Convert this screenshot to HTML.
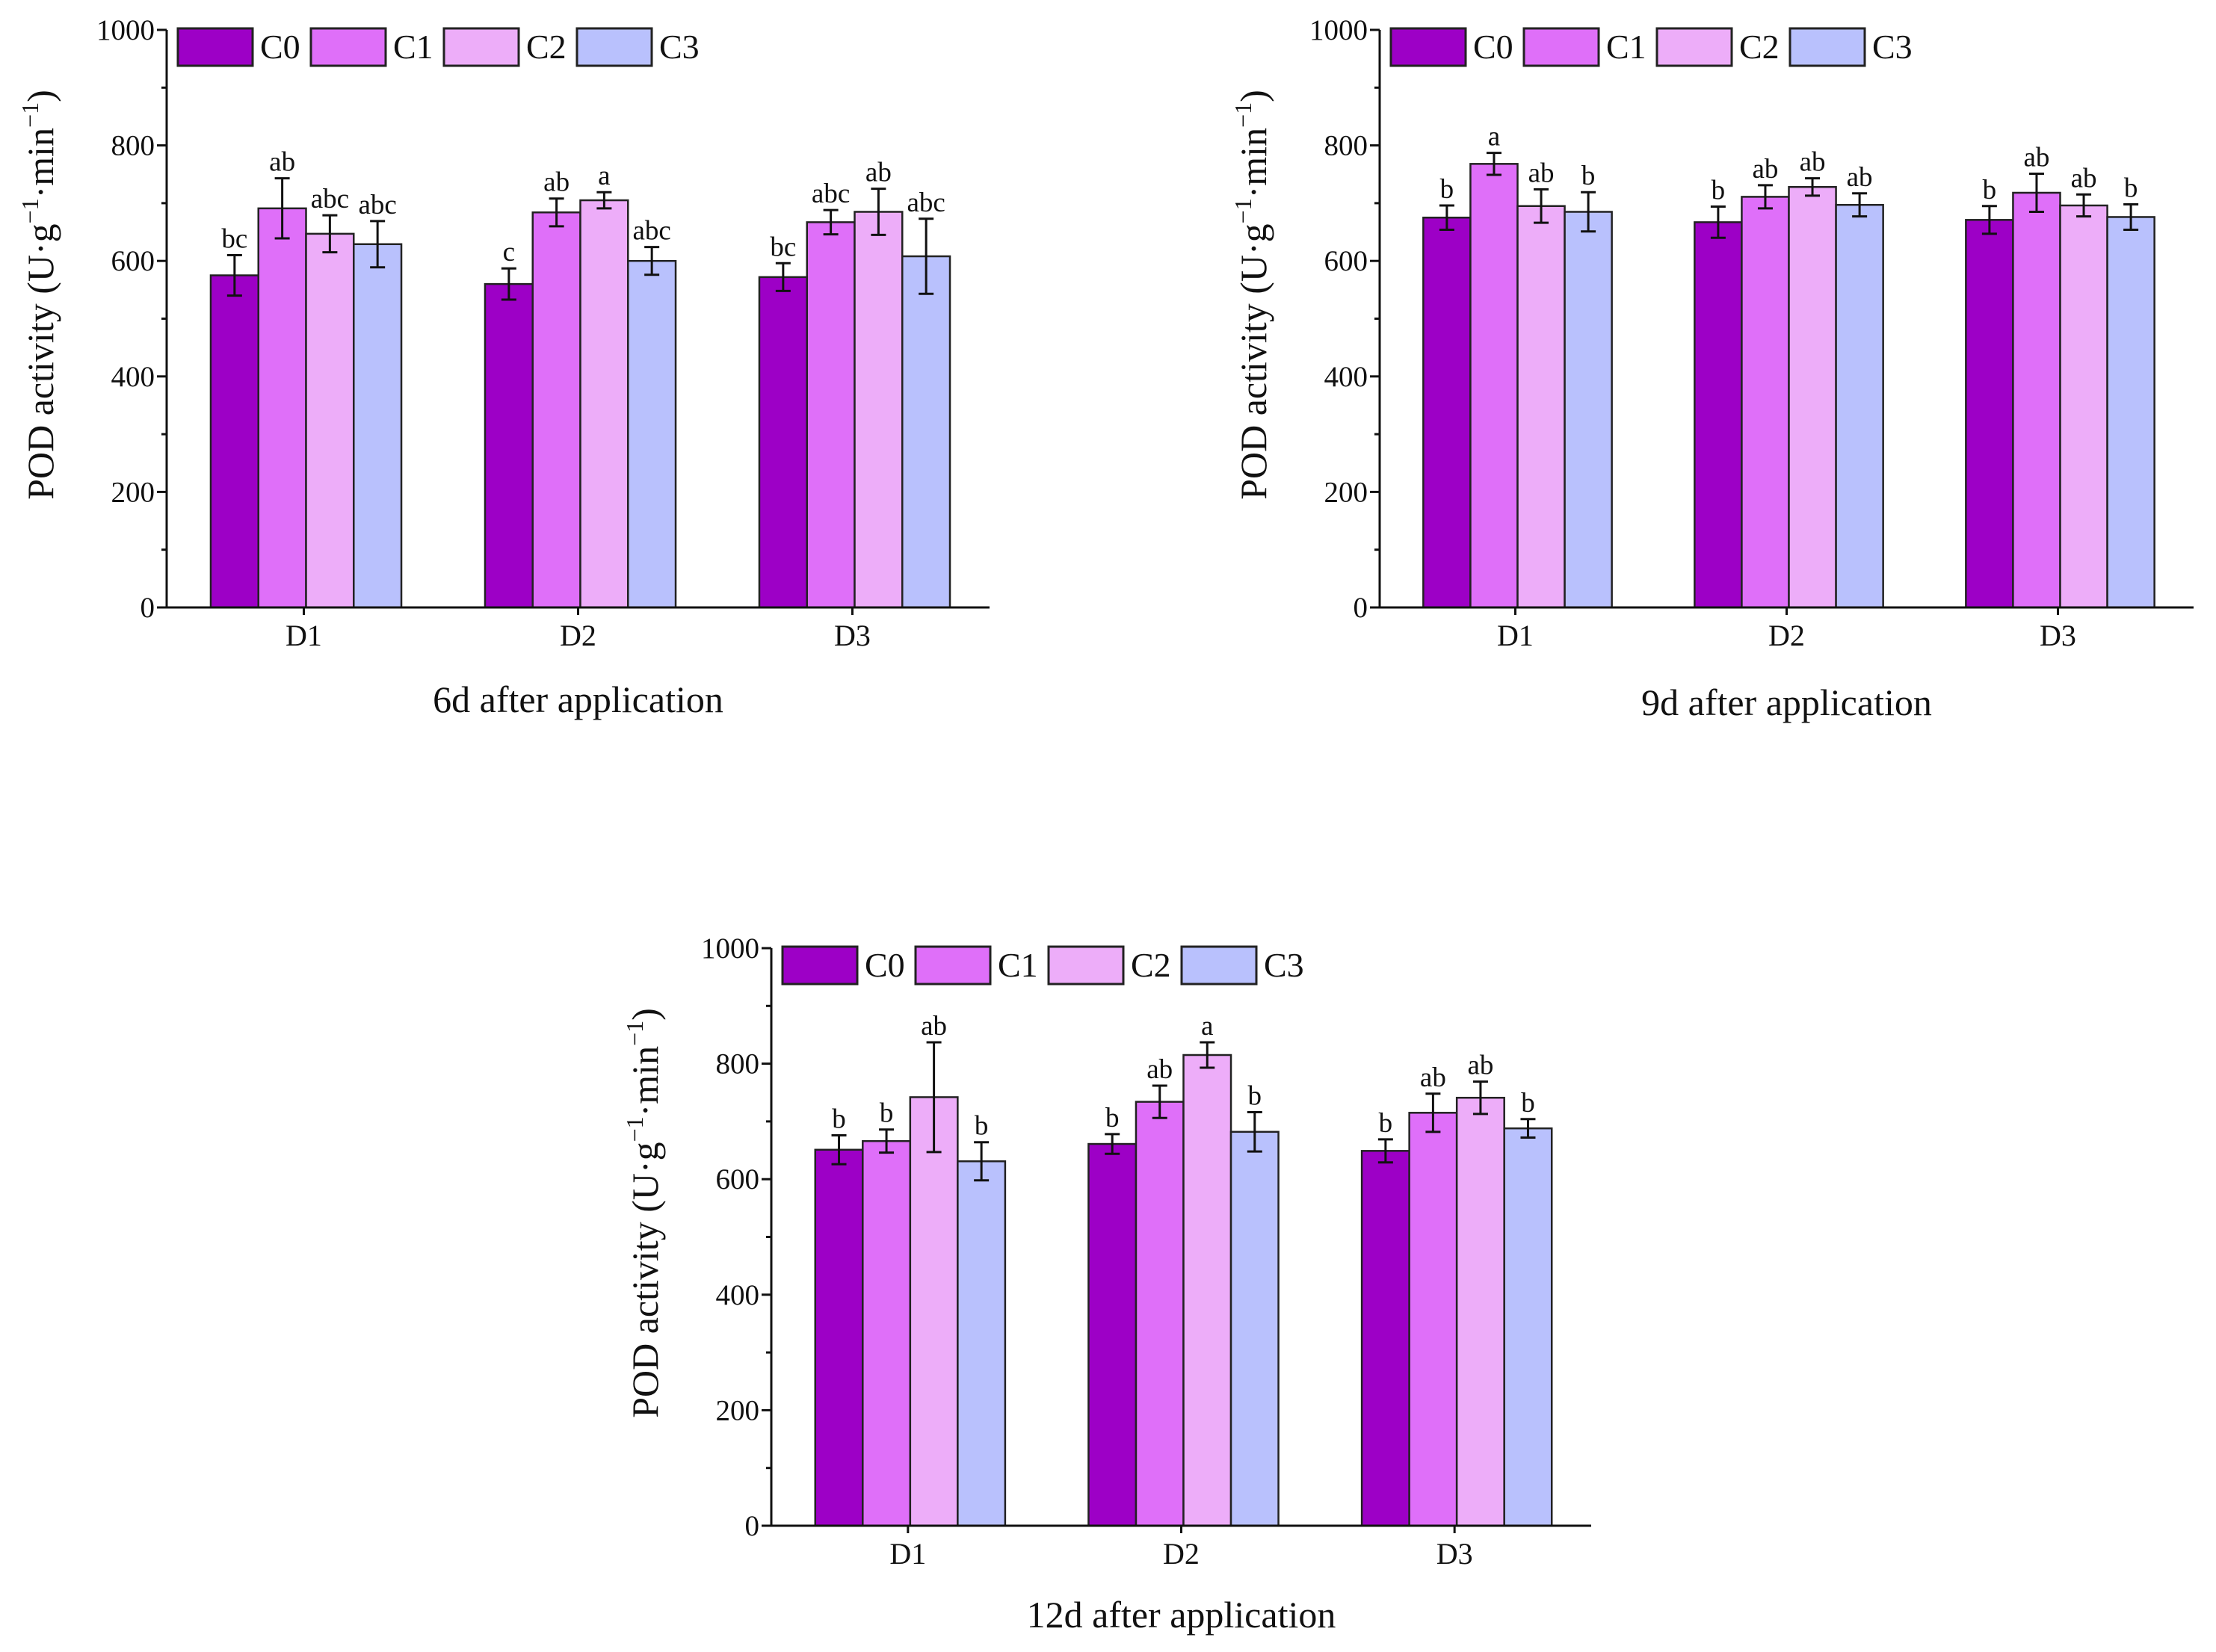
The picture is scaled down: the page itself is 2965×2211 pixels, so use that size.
<!DOCTYPE html>
<html><head><meta charset="utf-8"><style>
html,body{margin:0;padding:0;background:#fff;}
svg{display:block;font-family:"Liberation Serif",serif;}
</style></head><body>
<svg id="fig" width="2965" height="2211" viewBox="0 0 2965 2211" xmlns="http://www.w3.org/2000/svg"></svg>
<script>
const categories = ["D1","D2","D3"];
const seriesNames = ["C0","C1","C2","C3"];
const yTicks = [0,200,400,600,800,1000];
const yMinorTicks = [100,300,500,700,900];
// chart 1: 6d
const c6Values = [[575,560,572],[691,684,667],[647,705,685],[629,600,608]];
const c6Errors = [[35,27,24],[52,24,21],[32,14,40],[40,24,65]];
const c6Letters = [["bc","c","bc"],["ab","ab","abc"],["abc","a","ab"],["abc","abc","abc"]];
// chart 2: 9d
const c9Values = [[675,667,671],[768,711,718],[695,728,696],[685,697,676]];
const c9Errors = [[21,27,24],[19,20,33],[29,15,19],[34,20,22]];
const c9Letters = [["b","b","b"],["a","ab","ab"],["ab","ab","ab"],["b","ab","b"]];
// chart 3: 12d
const c12Values = [[651,661,649],[666,734,715],[742,815,741],[631,682,688]];
const c12Errors = [[25,17,20],[20,28,33],[95,22,28],[33,34,16]];
const c12Letters = [["b","b","b"],["b","ab","ab"],["ab","a","ab"],["b","b","b"]];
const colors = ["#9d00c6","#df6ff9","#edadf9","#b9c1fd"];

const NS="http://www.w3.org/2000/svg";
const svg=document.getElementById('fig');
function mk(tag,attrs,parent,text){const e=document.createElementNS(NS,tag);for(const k in attrs)e.setAttribute(k,attrs[k]);if(text!==undefined)e.textContent=text;parent.appendChild(e);return e;}

function chart(id,ox,right,y0,y1,vals,errs,letters,subtitle,subY,tickY){
  const g=mk('g',{},svg);
  
  
  const ys=v=>y0-(v/1000)*(y0-y1);
  const cw=(right-ox)/categories.length;
  const bw=cw*0.695/4;
  const off=(cw-bw*4)/2+3;
  for(let s=0;s<4;s++){
    for(let c=0;c<3;c++){
      const x=ox+cw*c+off+bw*s;
      const v=vals[s][c], e=errs[s][c];
      const r=mk('rect',{x:x,y:ys(v),width:bw,height:y0-ys(v),fill:colors[s],stroke:'#222','stroke-width':2.5},g);
      
      
      const cx=x+bw/2;
      const eb=mk('g',{stroke:'#111','stroke-width':3},g);
      
      
      mk('line',{x1:cx,x2:cx,y1:ys(v+e),y2:ys(v-e)},eb);
      mk('line',{x1:cx-10,x2:cx+10,y1:ys(v+e),y2:ys(v+e)},eb);
      mk('line',{x1:cx-10,x2:cx+10,y1:ys(v-e),y2:ys(v-e)},eb);
      const t=mk('text',{x:cx,y:ys(v+e)-10,'font-size':37,'text-anchor':'middle',fill:'#111'},g,letters[s][c]);
      
      
    }
  }
  const ax=mk('g',{stroke:'#111','stroke-width':3},g);
  
  
  mk('line',{x1:ox,x2:ox,y1:y1,y2:y0+1.5},ax);
  mk('line',{x1:ox-1.5,x2:right,y1:y0,y2:y0},ax);
  yTicks.forEach(v=>{
    mk('line',{x1:ox-13,x2:ox,y1:ys(v),y2:ys(v)},ax);
    const t=mk('text',{x:ox-16,y:ys(v)+13,'font-size':39,'text-anchor':'end',fill:'#111',stroke:'none'},g,String(v));
    
    
  });
  yMinorTicks.forEach(v=>mk('line',{x1:ox-7,x2:ox,y1:ys(v),y2:ys(v)},ax));
  categories.forEach((c,i)=>{
    const cx=ox+cw*(i+0.5);
    mk('line',{x1:cx,x2:cx,y1:y0,y2:y0+10},ax);
    const t=mk('text',{x:cx,y:tickY,'font-size':40,'text-anchor':'middle',fill:'#111'},g,c);
    
    
  });
  const yt=mk('text',{transform:`translate(${ox-152},${(y0+y1)/2-32}) rotate(-90)`,'font-size':50,'text-anchor':'middle',fill:'#111'},g);
  
  
  yt.innerHTML='POD activity (U·g<tspan dy="-20" font-size="32">−1</tspan><tspan dy="20">·min</tspan><tspan dy="-20" font-size="32">−1</tspan><tspan dy="20">)</tspan>';
  const st=mk('text',{x:(ox+right)/2,y:subY,'font-size':50,'text-anchor':'middle',fill:'#111'},g,subtitle);
  
  
  const lg=mk('g',{},g);
  
  
  seriesNames.forEach((n,i)=>{
    const lx=ox+15+i*178;
    const e=mk('g',{},lg);
    
    
    mk('rect',{x:lx,y:y1-2,width:100,height:50,fill:colors[i],stroke:'#222','stroke-width':3},e);
    mk('text',{x:lx+110,y:y1+38,'font-size':46,fill:'#111'},e,n);
  });
}
chart('chart-6d',223,1324,813,40,c6Values,c6Errors,c6Letters,'6d after application',953,864);
chart('chart-9d',1846,2935,813,40,c9Values,c9Errors,c9Letters,'9d after application',957,864);
chart('chart-12d',1032,2129,2042,1269,c12Values,c12Errors,c12Letters,'12d after application',2178,2093);
</script>
</body></html>
